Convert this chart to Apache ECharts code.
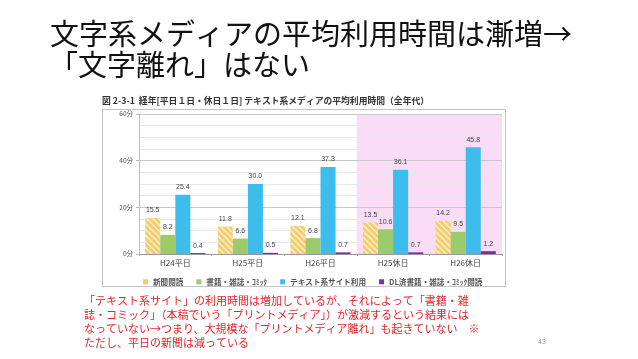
<!DOCTYPE html>
<html><head><meta charset="utf-8">
<script src="https://cdn.jsdelivr.net/npm/echarts@6/dist/echarts.min.js"></script>
<style>html,body{margin:0;padding:0;background:#fff}#c{width:638px;height:359px}</style>
</head><body><div id="c"></div>
<script>
const categories = ['H24平日','H25平日','H26平日','H25休日','H26休日'];
const newspaper = [15.5, 11.8, 12.1, 13.5, 14.2];
const books = [8.2, 6.6, 6.8, 10.6, 9.5];
const textSites = [25.4, 30.0, 37.3, 36.1, 45.8];
const dlBooks = [0.4, 0.5, 0.7, 0.7, 1.2];
const holidayBand = [null, null, null, 60, 60];
const yTicks = [0, 20, 40, 60];
const seriesNames = ['新聞閲読','書籍・雑誌・ｺﾐｯｸ','テキスト系サイト利用','DL済書籍・雑誌・ｺﾐｯｸ閲読'];

// hatch pattern for newspaper bars
const pc = document.createElement('canvas');
pc.width = 6; pc.height = 6;
const g = pc.getContext('2d');
g.fillStyle = '#F6CD6E'; g.fillRect(0,0,6,6);
g.strokeStyle = '#FDF1CF'; g.lineWidth = 1.3;
g.beginPath();
g.moveTo(0,0); g.lineTo(6,6);
g.moveTo(-3,3); g.lineTo(3,9);
g.moveTo(3,-3); g.lineTo(9,3);
g.stroke();

const chart = echarts.init(document.getElementById('c'));
const lbl = {show:true, position:'top', distance:4, fontSize:7, color:'#444', fontFamily:'Liberation Sans', formatter: p => p.value.toFixed(1)};
const cols = ['#F6CD6E','#9DCB6B','#3DBDEC','#7B2FA6'];
chart.setOption({
  animation:false,
  textStyle:{fontFamily:'Noto Sans CJK JP'},
  grid:{left:139, right:136, top:114, bottom:105},
  legend:{
    top:273, left:138, itemWidth:5, itemHeight:5, itemGap:13,
    textStyle:{fontSize:7.6, fontWeight:'bold', color:'#555', fontFamily:'Noto Sans CJK JP'},
    data: seriesNames.map((n,i)=>({name:n, icon:'rect', itemStyle:{color:cols[i]}}))
  },
  xAxis:[{
    type:'category', data:categories,
    axisLine:{lineStyle:{color:'#999'}},
    axisTick:{show:true, length:2, lineStyle:{color:'#aaa'}},
    axisLabel:{fontSize:8, color:'#444', margin:5}
  },{
    type:'category', data:categories, show:false
  }],
  yAxis:{
    type:'value', min:0, max:60, interval:20,
    axisLine:{show:true, lineStyle:{color:'#bbb'}},
    axisTick:{show:true, length:3, lineStyle:{color:'#bbb'}},
    axisLabel:{fontSize:6.5, color:'#555', margin:6, formatter: v => yTicks.includes(v) ? v+'分' : ''},
    splitLine:{lineStyle:{color:'#c8c8c8', width:1}},
    minorTick:{show:false, splitNumber:4},
    minorSplitLine:{show:true, lineStyle:{color:'#e8e8e8'}}
  },
  series:[
    {name:'band', type:'bar', xAxisIndex:1, data:holidayBand, barWidth:'100%', silent:true,
     itemStyle:{color:'rgba(248,196,240,0.6)'}, z:-1, legendHoverLink:false},
    {name:seriesNames[0], type:'bar', data:newspaper, barGap:'0%', barCategoryGap:'17%', itemStyle:{color:{image:pc, repeat:'repeat'}}, label:lbl},
    {name:seriesNames[1], type:'bar', data:books, itemStyle:{color:cols[1]}, label:lbl},
    {name:seriesNames[2], type:'bar', data:textSites, itemStyle:{color:cols[2]}, label:lbl},
    {name:seriesNames[3], type:'bar', data:dlBooks, itemStyle:{color:cols[3]}, label:lbl}
  ],
  graphic:[
    {type:'rect', shape:{x:102.5, y:109.5, width:403, height:177}, style:{fill:'none', stroke:'#c4c4c4', lineWidth:1}, silent:true},
    {type:'text', left:50, top:19, style:{text:'文字系メディアの平均利用時間は漸増→', font:'29px "Noto Sans CJK JP"', fill:'#111'}},
    {type:'text', left:49, top:50, style:{text:'「文字離れ」はない', font:'29px "Noto Sans CJK JP"', fill:'#111'}},
    {type:'text', left:102, top:96, style:{text:'図 2-3-1  経年[平日１日・休日１日] テキスト系メディアの平均利用時間（全年代）', font:'bold 8.8px "Noto Sans CJK JP"', fill:'#333'}},
    {type:'text', left:84, top:294, style:{text:'「テキスト系サイト」の利用時間は増加しているが、それによって「書籍・雑\n誌・コミック」（本稿でいう「プリントメディア」）が激減するという結果には\nなっていない→つまり、大規模な「プリントメディア離れ」も起きていない　※\nただし、平日の新聞は減っている', font:'11px "Noto Sans CJK JP"', fill:'#E3262B', lineHeight:14}},
    {type:'text', left:538, top:339, style:{text:'43', font:'7px "Liberation Sans"', fill:'#999'}}
  ]
});
</script></body></html>
